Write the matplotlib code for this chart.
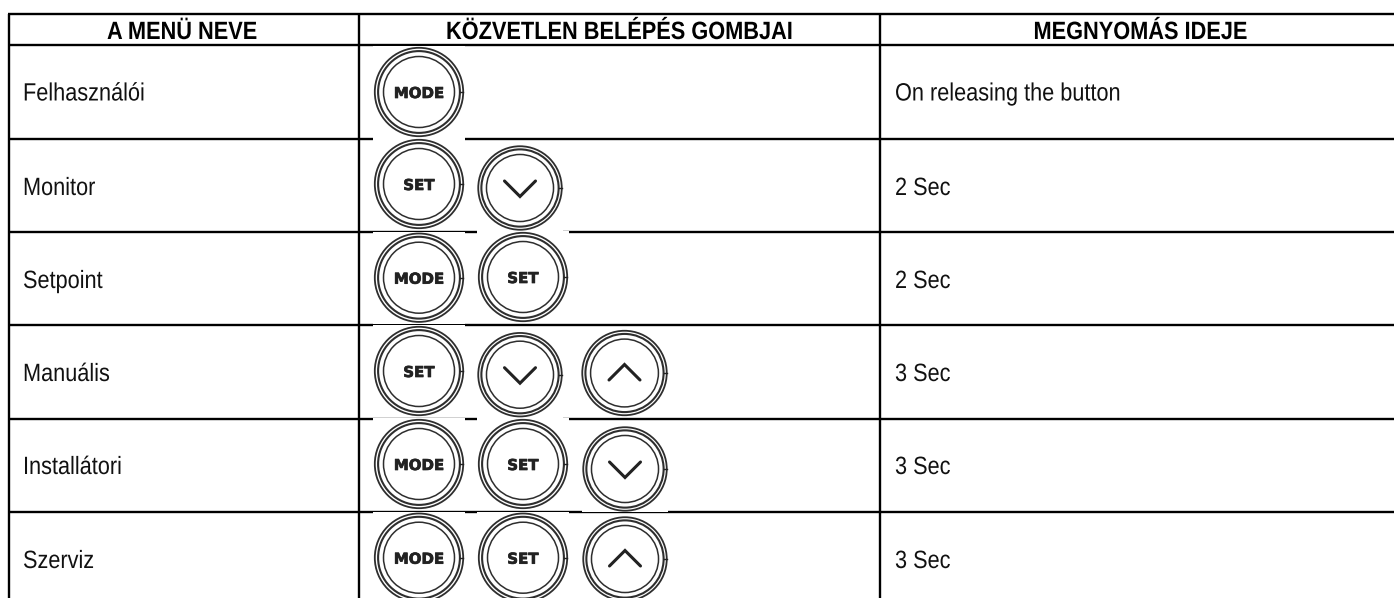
import matplotlib
matplotlib.use('Agg')
import matplotlib.pyplot as plt
import matplotlib.patheffects as pe
from matplotlib.patches import Circle, Rectangle
from matplotlib.transforms import Affine2D

headers = ['A MENÜ NEVE', 'KÖZVETLEN BELÉPÉS GOMBJAI', 'MEGNYOMÁS IDEJE']
menu_names = ['Felhasználói', 'Monitor', 'Setpoint', 'Manuális', 'Installátori', 'Szerviz']
press_times = ['On releasing the button', '2 Sec', '2 Sec', '3 Sec', '3 Sec', '3 Sec']
row_buttons = [['MODE'], ['SET', 'down'], ['MODE', 'SET'], ['SET', 'down', 'up'],
               ['MODE', 'SET', 'down'], ['MODE', 'SET', 'up']]

# layout in pixels
h_lines = [13.5, 44.5, 138.5, 231.5, 324.8, 418.7, 511.8]
v_lines = [9, 358.5, 880]
header_x = [107, 446, 1033.5]
text_y = [100.5, 195, 288, 381, 474, 568]
# centre x, centre y, outer radius
button_pos = [[(419, 92, 45)],
              [(419, 184, 45), (520, 188, 42.5)],
              [(419, 277.7, 45), (523, 277, 45)],
              [(419, 371, 45), (520, 374.7, 42.5), (624.5, 373, 43)],
              [(419, 464, 45), (523, 464, 45), (625, 469, 42.5)],
              [(419, 557.7, 45), (523, 557.7, 45), (625, 559, 42.5)]]

plt.rcParams['font.family'] = ['Liberation Sans']


# no narrow font here, so squeeze the glyphs sideways when they are drawn
class Squeeze(pe.AbstractPathEffect):
    def __init__(self, sx):
        super().__init__()
        self.sx = sx

    def draw_path(self, renderer, gc, tpath, affine, rgbFace=None):
        renderer.draw_path(gc, tpath, Affine2D().scale(self.sx, 1) + affine, rgbFace)


fig = plt.figure(figsize=(13.94, 5.98), dpi=100)
ax = fig.add_axes([0, 0, 1, 1])
ax.set_xlim(0, 1394)
ax.set_ylim(598, 0)
ax.axis('off')

for y in h_lines:
    ax.plot([7.5, 1394], [y, y], color='black', lw=1.7, solid_capstyle='butt', zorder=1)
for x in v_lines:
    ax.plot([x, x], [13.5, 598], color='black', lw=1.7, solid_capstyle='butt', zorder=1)


def draw_button(name, cx, cy, r):
    k = r / 45
    # white background of the button picture hides the table lines
    half_w = 46 * k
    ax.add_patch(Rectangle((cx - half_w, cy - half_w), 2 * half_w, 2 * half_w,
                           color='white', lw=0, zorder=2))
    for rr, w in [(44.2, 1.3), (40.9, 1.5), (35.5, 1.1)]:
        ax.add_patch(Circle((cx, cy), rr * k, fill=False, ec='#2e2e2e', lw=w, zorder=3))
    ax.plot([cx + 41 * k, cx + 44 * k], [cy, cy], color='#222222', lw=1, zorder=3)
    if name in ('MODE', 'SET'):
        ax.text(cx, cy, name, family='DejaVu Sans', fontweight='bold', fontsize=10.8,
                color='#222222', ha='center', va='center_baseline', zorder=4,
                path_effects=[pe.withStroke(linewidth=0.5, foreground='#222222')])
    elif name == 'down':
        ax.plot([cx - 15.5, cx, cx + 15.5], [cy - 7, cy + 8.5, cy - 7], color='#222222',
                lw=2.2, solid_joinstyle='miter', solid_capstyle='round', zorder=4)
    else:
        ax.plot([cx - 15.5, cx, cx + 15.5], [cy + 7, cy - 8.5, cy + 7], color='#222222',
                lw=2.2, solid_joinstyle='miter', solid_capstyle='round', zorder=4)


for names, places in zip(row_buttons, button_pos):
    for name, (cx, cy, r) in zip(names, places):
        draw_button(name, cx, cy, r)

for label, x in zip(headers, header_x):
    ax.text(x, 39, label, fontsize=18, fontweight='bold', color='black',
            ha='left', va='baseline', zorder=5, path_effects=[Squeeze(0.87)])

for name, t, y in zip(menu_names, press_times, text_y):
    ax.text(23, y, name, fontsize=18, color='#111111', ha='left', va='baseline',
            zorder=5, path_effects=[Squeeze(0.868)])
    ax.text(895, y, t, fontsize=18, color='#111111', ha='left', va='baseline',
            zorder=5, path_effects=[Squeeze(0.868)])

fig.savefig('out.png', dpi=100)
